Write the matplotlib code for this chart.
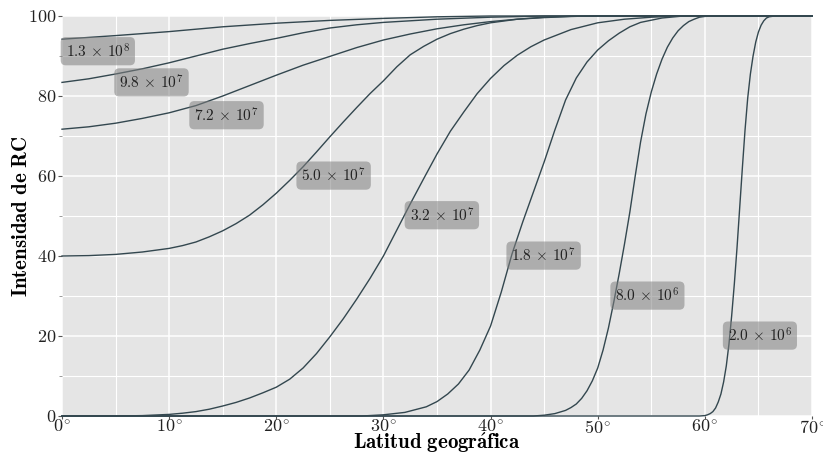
import matplotlib
matplotlib.use("Agg")
import matplotlib.pyplot as plt
from matplotlib.ticker import MultipleLocator, FuncFormatter

plt.rcParams["mathtext.fontset"] = "cm"
plt.rcParams["font.family"] = ["cmr10", "DejaVu Serif"]
plt.rcParams["axes.formatter.use_mathtext"] = True

# labels of each curve (value written as mantissa x 10^exp)
rigidities = [1.3e8, 9.8e7, 7.2e7, 5.0e7, 3.2e7, 1.8e7, 8.0e6, 2.0e6]

# latitude (deg) / intensity pairs, one pair of lists per curve
lat_13e8 = [0, 5, 10, 15, 20, 25, 30, 35, 40, 70]
int_13e8 = [94.2, 95.1, 96.1, 97.3, 98.2, 98.9, 99.4, 99.8, 100, 100]

lat_98e7 = [0, 2.5, 5, 7.5, 10, 12.5, 15, 17.5, 20, 22.5, 25, 27.5, 30, 35, 40, 45, 70]
int_98e7 = [83.4, 84.3, 85.5, 86.8, 88.3, 90.0, 91.7, 93.1, 94.4, 95.8, 97.0, 97.8, 98.4, 99.2, 99.7, 100, 100]

lat_72e7 = [0, 2.5, 5, 7.5, 10, 12.5, 15, 17.5, 20, 22.5, 25, 27.5, 30, 32.5, 35, 37.5, 40, 42.5, 45, 47.5, 50, 70]
int_72e7 = [71.7, 72.3, 73.2, 74.4, 75.8, 77.6, 80.0, 82.6, 85.2, 87.7, 89.9, 92.1, 94.0, 95.5, 96.8, 97.8, 98.6,
            99.2, 99.6, 99.9, 100, 100]

lat_50e7 = [0, 2.5, 5, 7.5, 10, 11.25, 12.5, 13.75, 15, 16.25, 17.5, 18.75, 20, 21.25, 22.5, 23.75, 25,
            26.25, 27.5, 28.75, 30, 31.25, 32.5, 33.75, 35, 36.25, 37.5, 38.75, 40, 42.5, 45, 47.5, 50, 70]
int_50e7 = [40.0, 40.1, 40.4, 41.0, 41.9, 42.6, 43.5, 44.8, 46.3, 48.1, 50.2, 52.8, 55.7, 58.9, 62.3, 66.0, 69.8,
            73.5, 77.1, 80.6, 83.8, 87.3, 90.3, 92.4, 94.2, 95.6, 96.7, 97.6, 98.3, 99.2, 99.7, 99.9, 100, 100]

lat_32e7 = [0, 5, 7.5, 10, 11.25, 12.5, 13.75, 15, 16.25, 17.5, 18.75, 20, 21.25, 22.5, 23.75, 25, 26.25,
            27.5, 28.75, 30, 31.25, 32.5, 33.75, 35, 36.25, 37.5, 38.75, 40, 41.25, 42.5, 43.75, 45, 47.5,
            50, 52.5, 55, 57.5, 70]
int_32e7 = [0, 0, 0.1, 0.4, 0.7, 1.1, 1.7, 2.5, 3.4, 4.5, 5.8, 7.2, 9.2, 12.0, 15.6, 19.8, 24.3,
            29.2, 34.4, 40.0, 46.5, 53.0, 59.3, 65.5, 71.2, 76.0, 80.6, 84.4, 87.6, 90.2, 92.3, 94.0, 96.6,
            98.3, 99.2, 99.7, 100, 100]

lat_18e7 = [0, 28, 30, 32, 34, 35, 36, 37, 38, 39, 40, 41, 42, 43, 44, 45, 46, 47, 48, 49, 50, 51, 52, 53, 54,
            56, 58, 70]
int_18e7 = [0, 0, 0.3, 0.9, 2.3, 3.6, 5.5, 8.0, 11.5, 16.5, 22.5, 31.0, 40.5, 48.5, 56.0, 63.5, 71.5, 79.0, 84.5,
            88.5, 91.5, 93.8, 95.7, 97.3, 98.4, 99.5, 100, 100]

lat_80e6 = [0, 44, 45, 46, 46.5, 47, 47.5, 48, 48.5, 49, 49.5, 50, 50.5, 51, 51.5, 52, 52.5, 53, 53.5, 54, 54.5,
            55, 55.5, 56, 56.5, 57, 57.5, 58, 58.5, 59, 59.5, 60, 61, 70]
int_80e6 = [0, 0, 0.2, 0.6, 1.0, 1.4, 2.1, 3.0, 4.4, 6.3, 8.8, 12.0, 16.5, 22.0, 28.5, 35.5, 43.0, 51.0, 60.0, 68.5,
            75.5, 81.0, 85.5, 89.2, 92.2, 94.5, 96.3, 97.6, 98.6, 99.2, 99.7, 99.9, 100, 100]

lat_20e6 = [0, 59.5, 60, 60.25, 60.5, 60.75, 61, 61.25, 61.5, 61.75, 62, 62.25, 62.5, 62.75, 63, 63.25, 63.5,
            63.75, 64, 64.25, 64.5, 64.75, 65, 65.25, 65.5, 65.75, 66, 66.5, 70]
int_20e6 = [0, 0, 0.1, 0.3, 0.6, 1.1, 2.0, 3.5, 5.5, 8.5, 12.5, 18.0, 25.0, 33.0, 42.0, 52.0, 62.0,
            71.5, 79.5, 85.5, 90.0, 93.5, 96.0, 97.7, 98.8, 99.5, 99.8, 100, 100]

lats = [lat_13e8, lat_98e7, lat_72e7, lat_50e7, lat_32e7, lat_18e7, lat_80e6, lat_20e6]
ints = [int_13e8, int_98e7, int_72e7, int_50e7, int_32e7, int_18e7, int_80e6, int_20e6]

# where each curve label sits (left edge of text, vertical centre)
label_x = [0.35, 5.35, 12.35, 22.35, 32.45, 41.95, 51.65, 62.15]
label_y = [91.2, 83.4, 75.2, 60.1, 50.2, 40.1, 30.1, 20.1]

line_color = "#33474f"

fig = plt.figure(figsize=(8.23, 4.55), dpi=100)
ax = fig.add_axes([62 / 823, 1 - 416 / 455, 750 / 823, 400 / 455])
ax.set_facecolor("#e5e5e5")

for xs, ys in zip(lats, ints):
    ax.plot(xs, ys, color=line_color, lw=1.0, clip_on=False, zorder=3)

for r, lx, ly in zip(rigidities, label_x, label_y):
    exp = len(str(int(r))) - 1
    man = r / 10 ** exp
    ax.text(lx, ly, rf"${man:.1f}\,\times\,10^{{{exp}}}$", fontsize=11, color="#222222",
            ha="left", va="center", zorder=4,
            bbox=dict(boxstyle="round,pad=0.33", fc="#808080", ec="none", alpha=0.55))

ax.set_xlim(0, 70)
ax.set_ylim(0, 100)
ax.xaxis.set_major_locator(MultipleLocator(10))
ax.xaxis.set_minor_locator(MultipleLocator(5))
ax.yaxis.set_major_locator(MultipleLocator(20))
ax.yaxis.set_minor_locator(MultipleLocator(10))
ax.xaxis.set_major_formatter(FuncFormatter(lambda v, p: rf"${v:.0f}^{{\!\circ}}$"))
ax.yaxis.set_major_formatter(FuncFormatter(lambda v, p: rf"${v:.0f}$"))

ax.grid(which="major", color="white", lw=1.1)
ax.grid(which="minor", color="white", lw=0.8)
ax.set_axisbelow(True)
for s in ax.spines.values():
    s.set_visible(False)

ax.tick_params(which="major", length=3, width=0.8, color="#555555", labelsize=13,
               labelcolor="#222222", pad=1)
ax.tick_params(axis="x", which="major", length=2, pad=0)
ax.tick_params(which="minor", length=2, width=0.6, color="#888888")
ax.tick_params(axis="x", which="minor", length=0)

ax.set_xlabel(r"$\mathbf{Latitud\ geogr\acute{a}fica}$", fontsize=15, labelpad=-3.5)
ax.set_ylabel(r"$\mathbf{Intensidad\ de\ RC}$", fontsize=15, labelpad=-2)

fig.savefig("out.png", dpi=100)
